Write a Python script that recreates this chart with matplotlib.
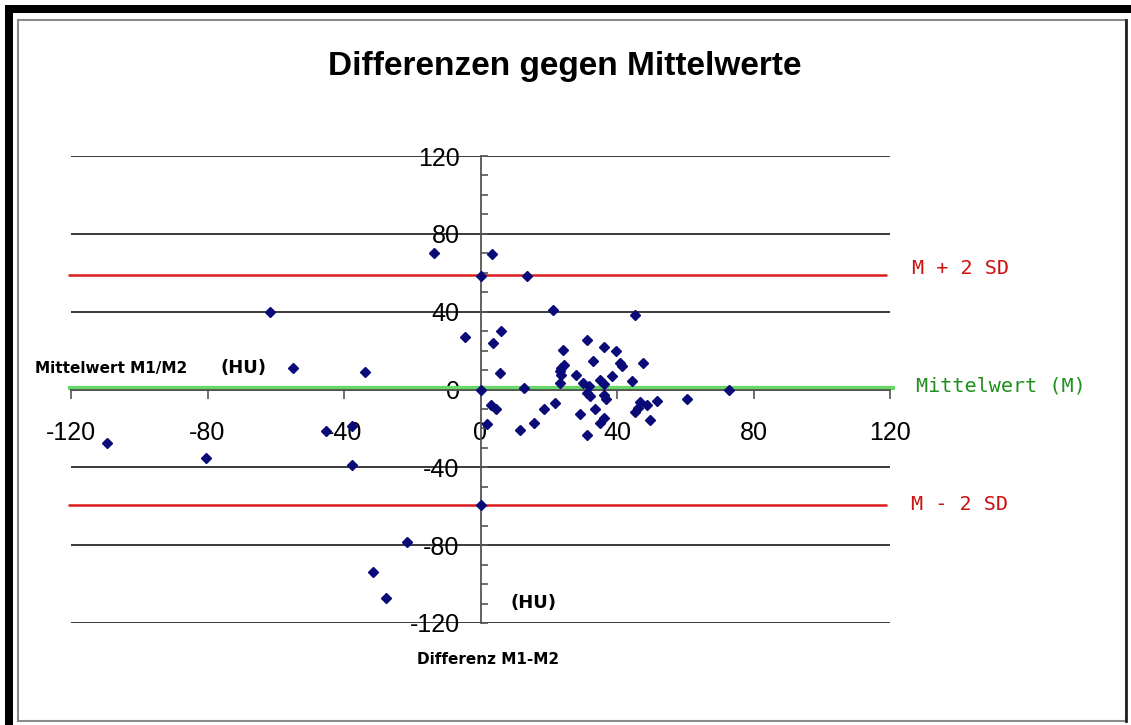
import numpy as np
import matplotlib.pyplot as plt
from matplotlib.patches import Rectangle
from matplotlib.ticker import MultipleLocator

plt.rcParams['axes.unicode_minus'] = False

# Mittelwert M1/M2 (x) und Differenz M1-M2 (y), in HU
mittelwert = [-109.5, -80.5, -61.7, -54.9, -45.4, -37.6, -37.6, -33.9, -31.4, -27.8,
              -21.5, -13.5, -4.5, 0, 0, 0, 2, 3.1, 3.4, 3.8,
              4.5, 5.6, 6, 11.7, 12.7, 13.7, 15.6, 18.6, 21.3, 21.7,
              23.2, 23.2, 23.6, 23.7, 24.2, 24.4, 27.9, 29.3, 30, 31.2,
              31.2, 31.7, 32, 31.2, 33, 33.5, 35.1, 35.1, 36.1, 36.1,
              36.1, 36.8, 36.1, 38.5, 39.7, 41, 41.5, 44.5, 45.3, 45.4,
              46.3, 46.8, 47.5, 48.8, 49.7, 51.7, 60.5, 72.9]
differenz = [-27.7, -35, 39.8, 10.9, -21.4, -18.8, -39, 9.2, -93.7, -107.4,
             -78.3, 70.4, 27, 58.5, 0, -59.5, -17.6, -8.2, 69.6, 23.9,
             -9.8, 8.7, 30.3, -21, 0.7, 58.5, -17.1, -9.8, 40.6, -6.8,
             3.4, 9.4, 11.1, 7.7, 20.5, 12.8, 7.2, -12.5, 3.4, 25.6,
             -1.7, 2, -3.2, -23.5, 14.5, -9.8, 4.8, -17.1, 21.6, 2.6,
             -2.6, -4.8, -14.5, 6.8, 20, 13.7, 12, 4.5, 38.4, -11.8,
             -9.4, -6.5, 13.7, -8.2, -15.5, -5.8, -5, 0]

m_wert = 1
m_plus_2sd = 59
m_minus_2sd = -59.5

W, H = 1131, 725
fig = plt.figure(figsize=(W / 100, H / 100), dpi=100)


def fx(px):
    return px / W


def fy(py):
    return 1 - py / H


# Rahmen: schwarzer Schatten oben/links, grauer Kasten innen
fig.add_artist(Rectangle((fx(5), fy(13)), fx(1131) - fx(5), fy(5) - fy(13),
                         transform=fig.transFigure, color='black', lw=0))
fig.add_artist(Rectangle((fx(5), fy(725)), fx(13) - fx(5), fy(5) - fy(725),
                         transform=fig.transFigure, color='black', lw=0))
fig.add_artist(Rectangle((fx(18), fy(721)), fx(1126) - fx(18), fy(20) - fy(721),
                         transform=fig.transFigure, fill=False, ec='#8a8a8a', lw=1.5))
fig.add_artist(plt.Line2D([fx(1126), fx(1126)], [fy(20), fy(721)],
                          transform=fig.transFigure, color='#222222', lw=2))

ax = fig.add_axes([fx(71), fy(623), fx(890) - fx(71), fy(156) - fy(623)])
ax.set_xlim(-120, 120)
ax.set_ylim(-120, 120)
ax.patch.set_alpha(0)

for s in ['top', 'right']:
    ax.spines[s].set_visible(False)
ax.spines['left'].set_position(('data', 0))
ax.spines['bottom'].set_position(('data', 0))
ax.spines['left'].set_color('#555555')
ax.spines['bottom'].set_color('#555555')
ax.spines['left'].set_linewidth(1.3)
ax.spines['bottom'].set_linewidth(1.3)

ax.xaxis.set_major_locator(MultipleLocator(40))
ax.yaxis.set_major_locator(MultipleLocator(40))
ax.yaxis.set_minor_locator(MultipleLocator(10))
ax.tick_params(axis='x', direction='out', length=6.5, width=1.2, color='#555555',
               labelsize=18, pad=16)
ax.tick_params(axis='y', which='major', direction='in', length=5, width=1.2,
               color='#555555', labelsize=18, pad=15)
ax.tick_params(axis='y', which='minor', direction='in', length=5, width=1.2,
               color='#555555')
for lab in ax.get_xticklabels() + ax.get_yticklabels():
    lab.set_fontfamily('Liberation Sans')

ax.grid(axis='y', which='major', color='#2b2b2b', lw=1.3)
ax.set_axisbelow(True)

ax.hlines([m_plus_2sd, m_minus_2sd], -121, 119, colors='#dd1c1c', lw=1.8, clip_on=False, zorder=2)
ax.hlines(m_wert, -121, 121.5, colors='#66d866', lw=3, clip_on=False, zorder=2)

ax.plot(mittelwert, differenz, 'D', color='#0a0a78', ms=5, zorder=3, clip_on=False)

fig.text(fx(565), fy(67), 'Differenzen gegen Mittelwerte', ha='center', va='center',
         fontsize=24, fontweight='bold', family='Liberation Sans')

fig.text(fx(35), fy(368), 'Mittelwert M1/M2', ha='left', va='center',
         fontsize=11, fontweight='bold')
fig.text(fx(243), fy(368), '(HU)', ha='center', va='center', fontsize=13, fontweight='bold')
fig.text(fx(534), fy(603), '(HU)', ha='center', va='center', fontsize=13, fontweight='bold')
fig.text(fx(488), fy(659), 'Differenz M1-M2', ha='center', va='center',
         fontsize=11, fontweight='bold')

fig.text(fx(912), fy(268), 'M + 2 SD', ha='left', va='center', fontsize=14.5,
         family='DejaVu Sans Mono', color='#cc1111')
fig.text(fx(916), fy(386), 'Mittelwert (M)', ha='left', va='center', fontsize=14.5,
         family='DejaVu Sans Mono', color='#1f8f1f')
fig.text(fx(911), fy(505), 'M - 2 SD', ha='left', va='center', fontsize=14.5,
         family='DejaVu Sans Mono', color='#cc1111')

fig.savefig('out.png', dpi=100, facecolor='white')
